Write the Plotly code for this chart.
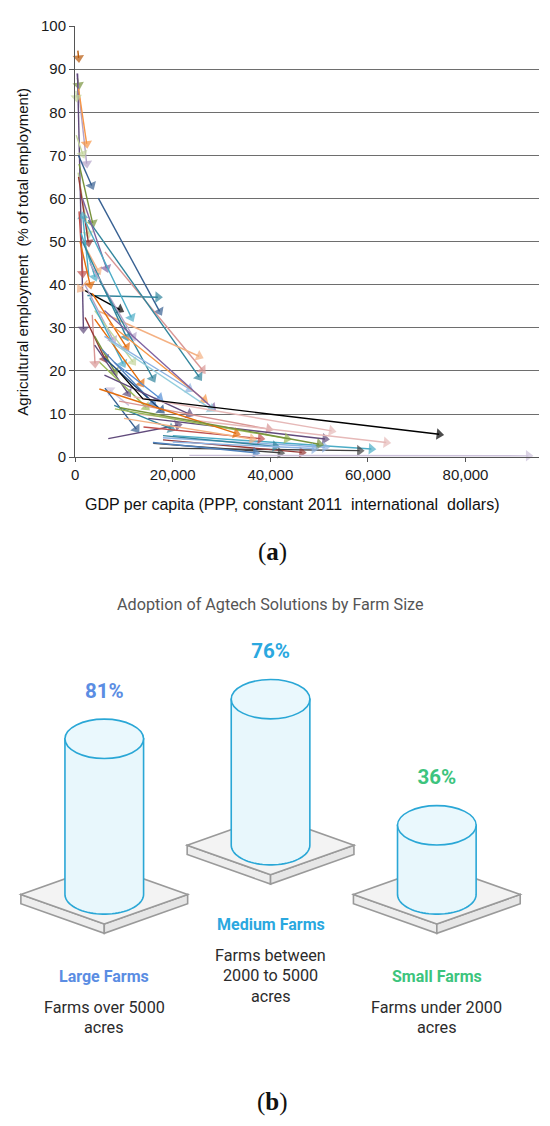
import numpy as np
import plotly.graph_objects as go

# ---------------- data: panel (a) ----------------
# each arrow: start (year 1) -> end (latest year); GDP per capita, agricultural employment %
arrow_gdp_start = [550, 450, 330, 490, 690, 200, 150, 670, 4740, 800,
                   600, 700, 2800, 800, 1500, 1200, 1000, 2500, 2500, 6100,
                   2700, 4740, 2030, 1500, 1690, 1500, 3000, 2000, 3500, 3500,
                   2030, 4000, 3000, 4000, 5000, 4000, 6000, 4000, 11000, 7000,
                   6000, 7000, 8000, 5500, 6000, 5000, 6000, 6100, 6780, 8000,
                   9000, 12000, 15000, 13000, 20000, 17300, 18000, 16000, 15930, 18000,
                   8140, 14000, 10000, 23400, 4950, 9000, 18000, 20000]
arrow_emp_start = [94.3, 88.0, 89.0, 89.0, 85.5, 74.7, 85.0, 70.0, 60.1, 68.0,
                   66.0, 65.0, 42.0, 57.0, 50.0, 52.0, 50.0, 41.0, 37.5, 47.6,
                   55.0, 33.9, 38.6, 60.0, 55.6, 50.0, 45.0, 40.0, 38.0, 33.0,
                   32.4, 34.0, 37.0, 28.0, 41.0, 32.0, 28.0, 26.0, 12.0, 31.0,
                   34.0, 27.0, 22.0, 25.0, 23.0, 22.0, 19.0, 16.0, 4.3, 12.0,
                   13.0, 14.0, 9.0, 10.0, 5.0, 2.1, 4.0, 3.2, 3.4, 4.5,
                   11.2, 7.0, 9.0, 0.4, 15.8, 11.5, 5.0, 3.5]
arrow_gdp_end = [700, 700, 2360, 1690, 2360, 1550, 250, 3380, 17300, 3580,
                 2700, 2700, 1550, 1550, 4740, 4070, 3050, 1020, 16950, 26100,
                 25400, 25400, 9150, 6430, 11520, 10500, 11860, 7790, 10500, 4070,
                 6100, 11860, 9830, 8140, 15930, 13550, 23400, 10840, 7120, 26450,
                 28140, 27800, 17300, 15930, 17620, 14570, 23400, 12540, 21020, 19660,
                 39670, 52550, 51190, 63750, 60700, 58300, 46450, 42030, 36950, 51190,
                 43400, 37970, 36280, 92900, 33000, 50000, 41000, 49000]
arrow_emp_end = [92.6, 86.3, 68.1, 29.7, 72.7, 70.3, 83.4, 63.0, 33.8, 54.3,
                 51.8, 49.8, 55.9, 42.6, 43.2, 41.8, 40.0, 39.0, 37.1, 20.2,
                 18.6, 23.4, 34.2, 43.8, 32.4, 27.9, 27.9, 27.2, 25.5, 21.7,
                 22.8, 22.1, 21.7, 19.8, 18.3, 17.1, 15.8, 14.8, 15.5, 13.3,
                 11.4, 11.2, 13.7, 12.6, 10.9, 11.6, 10.0, 6.5, 7.4, 6.6,
                 6.5, 6.1, 4.2, 3.4, 1.9, 1.5, 1.1, 1.0, 1.0, 2.3,
                 4.3, 4.3, 4.2, 0.3, 5.5, 3.0, 2.5, 2.0]
# one series passes through an intermediate year
black_path_gdp = [8800, 13900, 74600]
black_path_emp = [20.0, 13.5, 5.3]

x_tick_values = [0, 20000, 40000, 60000, 80000]
y_tick_values = [0, 10, 20, 30, 40, 50, 60, 70, 80, 90, 100]

# ---------------- data: panel (b) ----------------
farm_sizes = ["Large Farms", "Medium Farms", "Small Farms"]
adoption_pct = [81, 76, 36]
farm_descriptions = [["Farms over 5000", "acres"],
                     ["Farms between", "2000 to 5000", "acres"],
                     ["Farms under 2000", "acres"]]
infographic_title = "Adoption of Agtech Solutions by Farm Size"

# ---------------- styles ----------------
BLUE, DBLUE, NAVY, LBLUE = '#4F81BD', '#376092', '#1F497D', '#8EB4E3'
RED, DRED, ROSE, PINK = '#C0504D', '#953735', '#D99694', '#E6B9B8'
GREEN, DGREEN, LGREEN = '#9BBB59', '#77933C', '#C3D69B'
PURPLE, DPURPLE, LAV, PLAV = '#8064A2', '#604A7B', '#B3A2C7', '#CCC1DA'
AQUA, TEAL, LAQUA = '#4BACC6', '#31859C', '#93CDDD'
ORANGE, DORANGE, SALMON, BROWN = '#F79646', '#E46C0A', '#F4B183', '#B65708'
DGRAY = '#404040'
arrow_colors = [BROWN, DGREEN, LAV, DPURPLE, ORANGE, LGREEN, LGREEN, DBLUE, DBLUE, DGREEN,
                LGREEN, DRED, AQUA, RED, SALMON, AQUA, DORANGE, SALMON, TEAL, ROSE,
                TEAL, SALMON, '#000000', PURPLE, AQUA, TEAL, LAV, LAV, DORANGE, ROSE,
                DRED, LGREEN, AQUA, DGREEN, TEAL, DORANGE, LBLUE, DPURPLE, PLAV, ORANGE,
                PURPLE, LAQUA, '#558ED5', BLUE, NAVY, GREEN, DPURPLE, DBLUE, DPURPLE, TEAL,
                ROSE, PINK, DPURPLE, PINK, AQUA, DGRAY, DRED, DGRAY, BLUE, LBLUE,
                GREEN, RED, SALMON, PLAV, DORANGE, DGREEN, TEAL, LBLUE]

W, H = 550, 1126
SANS = "Liberation Sans"
ROBOTO = "Roboto"


def pxx(v):
    return v / W


def pxy(v):
    return 1 - v / H


fig = go.Figure()

# ---------- panel (a) arrows ----------
def add_arrow(xs, ys, color):
    n = len(xs)
    fig.add_trace(go.Scatter(
        x=xs, y=ys, mode='lines+markers', xaxis='x', yaxis='y',
        line=dict(color=color, width=1.4),
        marker=dict(symbol='triangle-up', size=[0] * (n - 1) + [10], angleref='previous',
                    color=color, line=dict(width=0)),
        cliponaxis=False, hoverinfo='skip', showlegend=False))


for x0, y0, x1, y1, c in zip(arrow_gdp_start, arrow_emp_start, arrow_gdp_end, arrow_emp_end, arrow_colors):
    add_arrow([x0, x1], [y0, y1], c)
add_arrow(black_path_gdp, black_path_emp, '#000000')

# ---------- panel (b) geometry (layout constants in pixel-like coordinates) ----------
centers_x = [101, 268.5, 436]
base_y = [899, 849, 899]
PX_PER_PCT = 1.95
RX, RY = 39.6, 20.0
PW, PH, PT = 84, 30, 9.5
CYL_LINE = '#2AA7D6'
CYL_FILL = '#E8F7FC'
PLAT_LINE = '#9A9A9A'
label_colors = ['#5B8DE3', '#2BA8DF', '#3DC47D']

shapes = []


def poly(points):
    return 'M ' + ' L '.join(f'{x:.2f},{y:.2f}' for x, y in points) + ' Z'


for cx, by, pct in zip(centers_x, base_y, adoption_pct):
    # platform: top face and two front faces
    top = [(cx - PW, by), (cx, by - PH), (cx + PW, by), (cx, by + PH)]
    left = [(cx - PW, by), (cx, by + PH), (cx, by + PH + PT), (cx - PW, by + PT)]
    right = [(cx, by + PH), (cx + PW, by), (cx + PW, by + PT), (cx, by + PH + PT)]
    for pts, fc in ((left, '#EDEDED'), (right, '#E6E6E6'), (top, '#F3F3F3')):
        shapes.append(dict(type='path', xref='x2', yref='y2', path=poly(pts),
                           fillcolor=fc, line=dict(color=PLAT_LINE, width=1.6)))
    # cylinder body
    yt = by - pct * PX_PER_PCT
    t = np.linspace(np.pi, 0, 40)
    arc = list(zip(cx + RX * np.cos(t), by + RY * np.sin(t)))
    body = [(cx - RX, yt)] + arc + [(cx + RX, yt)]
    shapes.append(dict(type='path', xref='x2', yref='y2', path=poly(body),
                       fillcolor=CYL_FILL, line=dict(color=CYL_LINE, width=1.6)))
    shapes.append(dict(type='circle', xref='x2', yref='y2',
                       x0=cx - RX, x1=cx + RX, y0=yt - RY, y1=yt + RY,
                       fillcolor='#EAF8FD', line=dict(color=CYL_LINE, width=1.6)))

# percentage labels
fig.add_trace(go.Scatter(
    x=centers_x, y=[by - p * PX_PER_PCT - 47 for by, p in zip(base_y, adoption_pct)],
    xaxis='x2', yaxis='y2', mode='text',
    text=[f'<b>{p}%</b>' for p in adoption_pct],
    textfont=dict(family=ROBOTO, size=20.5, color=label_colors),
    hoverinfo='skip', showlegend=False))

annotations = []


def ann(text, x, y, ref, size, color, family, angle=0):
    xr, yr = ('paper', 'paper') if ref == 'paper' else ('x2', 'y2')
    annotations.append(dict(text=text, x=x, y=y, xref=xr, yref=yr, showarrow=False,
                            xanchor='center', yanchor='middle', textangle=angle,
                            font=dict(family=family, size=size, color=color)))


# panel (a) axis titles
ann('GDP per capita (PPP, constant 2011  international  dollars)', pxx(290), pxy(503), 'paper', 16, '#111', SANS)
ann('Agricultural employment  (% of total employment)', pxx(18.5), pxy(246), 'paper', 15, '#111', SANS, -90)
ann('(<b>a</b>)', pxx(270), pxy(551), 'paper', 25, '#111', 'Liberation Serif')
ann('(<b>b</b>)', pxx(270), pxy(1110), 'paper', 25, '#111', 'Liberation Serif')
# panel (b) texts
ann(infographic_title, 268.5, 605, 'x2', 16.2, '#555555', ROBOTO)
name_y = [982, 929.4, 982]
for cx, ny, name, desc, col in zip(centers_x, name_y, farm_sizes, farm_descriptions, label_colors):
    ann(f'<b>{name}</b>', cx, ny, 'x2', 16, col, ROBOTO)
    for i, line in enumerate(desc):
        ann(line, cx, ny + 31.5 + 20.8 * i, 'x2', 16.2, '#2b2b2b', ROBOTO)

fig.update_layout(
    width=W, height=H, margin=dict(l=0, r=0, t=0, b=0),
    paper_bgcolor='white', plot_bgcolor='rgba(0,0,0,0)', showlegend=False,
    xaxis=dict(domain=[pxx(71.7), pxx(538.6)], range=[0, 95000], anchor='y',
               tickvals=x_tick_values, tickformat=',', showgrid=False, zeroline=False,
               showline=True, linecolor='#555555', linewidth=1.3,
               ticks='outside', ticklen=4, tickcolor='#555555',
               tickfont=dict(family=SANS, size=15, color='#1a1a1a')),
    yaxis=dict(domain=[pxy(455), pxy(17.3)], range=[0, 100], anchor='x',
               tickvals=y_tick_values, showgrid=True, gridcolor='#6E6E6E', gridwidth=1.2,
               zeroline=False, showline=True, linecolor='#555555', linewidth=1.3,
               ticks='outside', ticklen=5, tickcolor='#555555',
               tickfont=dict(family=SANS, size=15, color='#1a1a1a')),
    xaxis2=dict(domain=[0, 1], range=[0, W], anchor='y2', visible=False),
    yaxis2=dict(domain=[0, 1], range=[H, 0], anchor='x2', visible=False),
    shapes=shapes, annotations=annotations,
)

fig.write_html("out.html", config={'displayModeBar': False},
               post_script="document.body.style.margin='0px';")
